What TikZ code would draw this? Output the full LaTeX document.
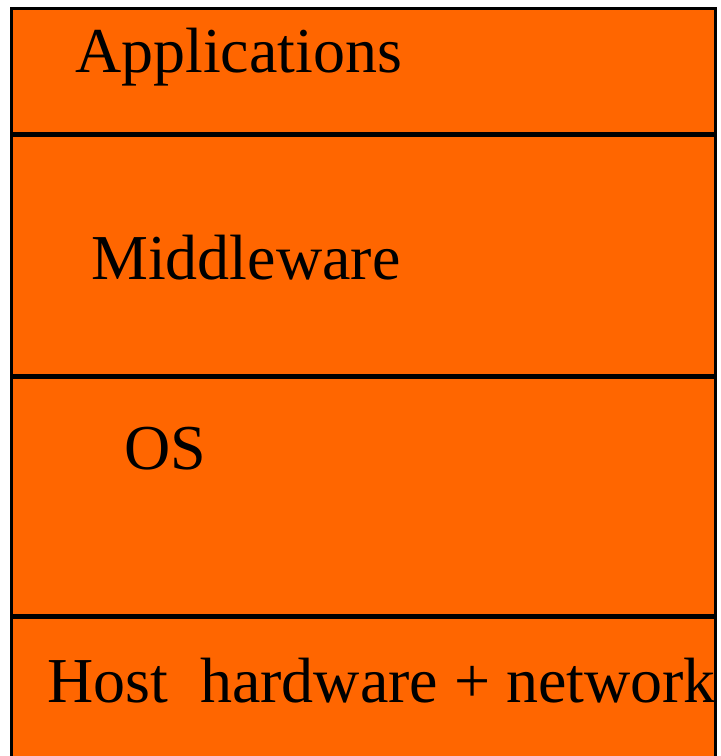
\documentclass[tikz,border=0pt]{standalone}
\usepackage{fontspec}
\setmainfont{Liberation Serif}
\definecolor{layerorange}{HTML}{FF6600}

\begin{document}
\begin{tikzpicture}[x=1pt, y=-1pt,
  every node/.style = {anchor=base west, inner sep=0pt, font=\fontsize{64}{70}\selectfont},
  divider/.style = {line width=5pt}]
  \useasboundingbox (0,0) rectangle (721,756);
  \clip (0,0) rectangle (721,756);
  \filldraw[fill=layerorange, line width=3pt] (11,8) rectangle (715,790);
  \draw[divider] (11,134) -- (715,134);
  \draw[divider] (11,376) -- (715,376);
  \draw[divider] (11,616) -- (715,616);
  \node (apps) at (75,72) {Applications};
  \node (mid) at (91,279) {Middleware};
  \node (os) at (124,469) {OS};
  \node (host) at (47,702) {Host\ \ hardware + network};
\end{tikzpicture}
\end{document}
